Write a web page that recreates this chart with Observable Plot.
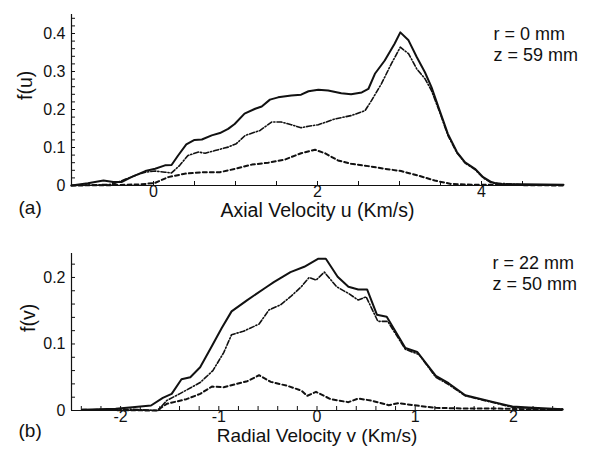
<!DOCTYPE html>
<html>
<head>
<meta charset="utf-8">
<script src="https://cdn.jsdelivr.net/npm/d3@7"></script>
<script src="https://cdn.jsdelivr.net/npm/@observablehq/plot@0.6"></script>
<style>
  html, body { margin: 0; padding: 0; background: #fff; }
  #chart svg { display: block; }
</style>
</head>
<body>
<div id="chart"></div>
<script>
// ---- Panel (a): axial velocity distribution ----
const uSolid = [-1, -0.8, -0.61, -0.49, -0.39, -0.27, -0.1, 0.02, 0.14, 0.22, 0.30, 0.40, 0.50, 0.59, 0.71, 0.81, 0.91, 0.99, 1.11, 1.24, 1.32, 1.42, 1.52, 1.68, 1.80, 1.89, 2.01, 2.13, 2.29, 2.41, 2.54, 2.62, 2.70, 2.82, 2.94, 3.01, 3.11, 3.21, 3.31, 3.39, 3.49, 3.59, 3.70, 3.80, 3.92, 4.02, 4.12, 4.2, 4.5, 5.0];
const fSolidA = [0, 0.006, 0.013, 0.009, 0.009, 0.022, 0.038, 0.044, 0.053, 0.054, 0.079, 0.108, 0.12, 0.121, 0.132, 0.138, 0.149, 0.162, 0.189, 0.202, 0.208, 0.226, 0.232, 0.237, 0.239, 0.248, 0.252, 0.25, 0.243, 0.240, 0.245, 0.254, 0.294, 0.329, 0.373, 0.403, 0.382, 0.338, 0.298, 0.259, 0.197, 0.136, 0.088, 0.061, 0.044, 0.022, 0.009, 0.004, 0.003, 0.002];
const uDashDot = [-1, -0.5, -0.23, -0.1, 0.02, 0.14, 0.22, 0.32, 0.42, 0.55, 0.63, 0.75, 0.91, 1.01, 1.12, 1.30, 1.44, 1.56, 1.68, 1.80, 1.89, 2.01, 2.21, 2.41, 2.58, 2.66, 2.78, 2.90, 3.01, 3.11, 3.21, 3.31, 3.39, 3.49, 3.59, 3.70, 3.80, 3.92, 4.02, 4.12, 4.5, 5];
const fDashDotA = [0, 0.003, 0.026, 0.035, 0.038, 0.035, 0.033, 0.053, 0.079, 0.088, 0.085, 0.092, 0.101, 0.110, 0.132, 0.145, 0.167, 0.167, 0.160, 0.152, 0.156, 0.160, 0.175, 0.184, 0.197, 0.224, 0.268, 0.32, 0.364, 0.347, 0.307, 0.281, 0.25, 0.193, 0.132, 0.086, 0.059, 0.042, 0.02, 0.007, 0.002, 0.001];
const uDashed = [-1, -0.5, -0.15, 0.02, 0.18, 0.38, 0.59, 0.81, 1.0, 1.2, 1.40, 1.60, 1.80, 1.97, 2.09, 2.25, 2.41, 2.62, 2.82, 3.02, 3.23, 3.43, 3.63, 3.9, 4.5, 5];
const fDashedA = [0, 0.001, 0.003, 0.007, 0.022, 0.031, 0.035, 0.035, 0.044, 0.055, 0.06, 0.068, 0.085, 0.094, 0.085, 0.066, 0.057, 0.051, 0.044, 0.038, 0.026, 0.013, 0.004, 0.002, 0.001, 0];

const xTicksA = [0, 2, 4];
const xMinorA = [-0.5, 0, 0.5, 1, 1.5, 2, 2.5, 3, 3.5, 4, 4.5];
const yTicksA = [0, 0.1, 0.2, 0.3, 0.4];
const yMinorA = [0.02, 0.04, 0.06, 0.08, 0.1, 0.12, 0.14, 0.16, 0.18, 0.2, 0.22, 0.24, 0.26, 0.28, 0.3, 0.32, 0.34, 0.36, 0.38, 0.4, 0.42, 0.44];

// ---- Panel (b): radial velocity distribution ----
const vSolid = [-2.39, -2.05, -1.88, -1.69, -1.57, -1.48, -1.38, -1.29, -1.19, -1.07, -0.97, -0.87, -0.71, -0.51, -0.44, -0.27, -0.13, 0.01, 0.09, 0.21, 0.32, 0.42, 0.51, 0.61, 0.71, 0.90, 1.02, 1.21, 1.34, 1.51, 1.79, 1.99, 2.2, 2.5];
const fSolidB = [0.001, 0.0025, 0.005, 0.0075, 0.019, 0.025, 0.047, 0.05, 0.065, 0.097, 0.124, 0.149, 0.166, 0.186, 0.193, 0.208, 0.216, 0.228, 0.228, 0.201, 0.186, 0.182, 0.182, 0.144, 0.141, 0.094, 0.088, 0.052, 0.041, 0.023, 0.013, 0.006, 0.004, 0.002];
const vDashDot = [-2.39, -1.9, -1.62, -1.53, -1.40, -1.19, -1.06, -0.95, -0.87, -0.75, -0.59, -0.49, -0.37, -0.27, -0.16, -0.08, -0.01, 0.075, 0.2, 0.32, 0.42, 0.50, 0.62, 0.72, 0.9, 1.04, 1.21, 1.34, 1.51, 1.79, 1.99, 2.2, 2.5];
const fDashDotB = [0.001, 0.002, 0, 0.015, 0.025, 0.042, 0.06, 0.087, 0.114, 0.119, 0.13, 0.151, 0.159, 0.171, 0.186, 0.2, 0.196, 0.208, 0.186, 0.176, 0.166, 0.171, 0.134, 0.134, 0.092, 0.084, 0.05, 0.039, 0.022, 0.012, 0.005, 0.003, 0.002];
const vDashed = [-2.39, -1.63, -1.53, -1.33, -1.19, -1.07, -0.95, -0.71, -0.59, -0.47, -0.30, -0.16, -0.1, -0.01, 0.14, 0.32, 0.42, 0.55, 0.73, 0.83, 1.04, 1.21, 1.5, 1.8, 2.1, 2.5];
const fDashedB = [0.001, 0, 0.01, 0.017, 0.025, 0.036, 0.035, 0.044, 0.053, 0.043, 0.037, 0.03, 0.022, 0.028, 0.017, 0.0125, 0.018, 0.015, 0.008, 0.011, 0.007, 0.004, 0.003, 0.003, 0.002, 0.001];

const xTicksB = [-2, -1, 0, 1, 2];
const xMinorB = [-2.4, -2.2, -2, -1.8, -1.6, -1.4, -1.2, -1, -0.8, -0.6, -0.4, -0.2, 0, 0.2, 0.4, 0.6, 0.8, 1, 1.2, 1.4, 1.6, 1.8, 2, 2.2, 2.4];
const yTicksB = [0, 0.1, 0.2];
const yMinorB = [0.02, 0.04, 0.06, 0.08, 0.1, 0.12, 0.14, 0.16, 0.18, 0.2, 0.22];

const W = 590, H = 226;
const FONT = "'Liberation Sans', Arial, Helvetica, sans-serif";

function zip(xs, ys) { return xs.map((x, i) => ({x, y: ys[i]})); }

function panel(cfg) {
  const plotW = W - cfg.ml - cfg.mr;
  const plotH = H - cfg.mt - cfg.mb;
  return Plot.plot({
    width: W, height: H,
    marginLeft: cfg.ml, marginRight: cfg.mr, marginTop: cfg.mt, marginBottom: cfg.mb,
    style: {fontFamily: FONT, fontSize: "16px", color: "#111", background: "#fff", overflow: "visible"},
    x: {domain: cfg.xDomain, ticks: cfg.xTicks, tickSize: 0, tickPadding: 0, tickFormat: d => String(d), label: null},
    y: {domain: cfg.yDomain, ticks: cfg.yTicks, tickSize: 0, tickPadding: 6, tickFormat: d => String(d), label: null},
    marks: [
      Plot.tickX(cfg.xMinor, {x: d => d, insetTop: plotH - 4, stroke: "#111", strokeWidth: 1}),
      Plot.tickY(cfg.yMinor, {y: d => d, insetRight: plotW - 4, stroke: "#111", strokeWidth: 1}),
      Plot.line(zip(cfg.xDashed, cfg.fDashed), {x: "x", y: "y", stroke: "#111", strokeWidth: 2, strokeDasharray: "4,3"}),
      Plot.line(zip(cfg.xDashDot, cfg.fDashDot), {x: "x", y: "y", stroke: "#111", strokeWidth: 1.6, strokeDasharray: "5,2,1.2,2"}),
      Plot.line(zip(cfg.xSolid, cfg.fSolid), {x: "x", y: "y", stroke: "#111", strokeWidth: 2}),
      Plot.ruleY([cfg.yDomain[0]], {stroke: "#111", strokeWidth: 1.2}),
      Plot.ruleX([cfg.xDomain[0]], {stroke: "#111", strokeWidth: 1.2}),
      Plot.text([cfg.xLabel], {text: d => d, frameAnchor: "bottom", dy: cfg.xLabelDy, fontSize: cfg.xLabelSize, fill: "#111"}),
      Plot.text([cfg.yLabel], {text: d => d, frameAnchor: "left", dx: cfg.yLabelDx, rotate: -90, fontSize: 19.5, fill: "#111"}),
      Plot.text([cfg.tag], {text: d => d, frameAnchor: "bottom-left", textAnchor: "start", dx: -53, dy: cfg.tagDy, fontSize: 19, fill: "#111"}),
      Plot.text([cfg.note1], {text: d => d, frameAnchor: "top-right", textAnchor: "start", dx: -70, dy: cfg.note1Dy, fontSize: 18, fill: "#111"}),
      Plot.text([cfg.note2], {text: d => d, frameAnchor: "top-right", textAnchor: "start", dx: -70, dy: cfg.note2Dy, fontSize: 18, fill: "#111"})
    ]
  });
}

const chart = document.getElementById("chart");
chart.appendChild(panel({
  ml: 71, mr: 27, mt: 14, mb: 41,
  xDomain: [-1, 5], yDomain: [0, 0.45],
  xTicks: xTicksA, xMinor: xMinorA, yTicks: yTicksA, yMinor: yMinorA,
  xSolid: uSolid, fSolid: fSolidA, xDashDot: uDashDot, fDashDot: fDashDotA, xDashed: uDashed, fDashed: fDashedA,
  xLabel: "Axial Velocity u (Km/s)", xLabelDy: 31, xLabelSize: 19.5, yLabel: "f(u)", yLabelDx: -46,
  tag: "(a)", tagDy: 28,
  note1: "r = 0 mm", note1Dy: 13, note2: "z = 59 mm", note2Dy: 34
}));
chart.appendChild(panel({
  ml: 71, mr: 28, mt: 27, mb: 42,
  xDomain: [-2.5, 2.5], yDomain: [0, 0.236],
  xTicks: xTicksB, xMinor: xMinorB, yTicks: yTicksB, yMinor: yMinorB,
  xSolid: vSolid, fSolid: fSolidB, xDashDot: vDashDot, fDashDot: fDashDotB, xDashed: vDashed, fDashed: fDashedB,
  xLabel: "Radial Velocity v (Km/s)", xLabelDy: 31.5, xLabelSize: 19, yLabel: "f(v)", yLabelDx: -43,
  tag: "(b)", tagDy: 26,
  note1: "r = 22 mm", note1Dy: 3, note2: "z = 50 mm", note2Dy: 24
}));
</script>
</body>
</html>
